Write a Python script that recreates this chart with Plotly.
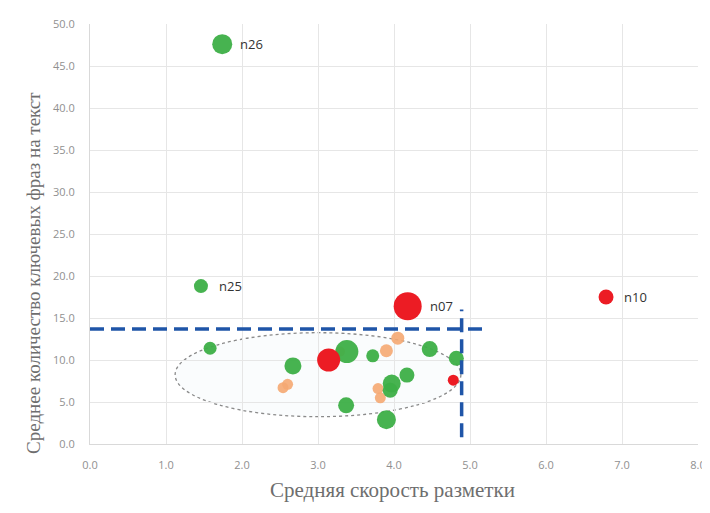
import plotly.graph_objects as go

# Data
green_x = [1.74, 1.46, 1.58, 2.67, 3.38, 3.37, 3.72, 4.47, 4.82, 4.17, 3.97, 3.95, 3.90]
green_y = [47.6, 18.8, 11.4, 9.3, 11.0, 4.6, 10.5, 11.3, 10.2, 8.2, 7.2, 6.4, 2.9]
green_s = [20, 14, 13, 17, 23, 16, 13, 16, 15, 15, 18, 15, 19]

orange_x = [2.54, 2.60, 3.29, 3.90, 4.05, 3.79, 3.82]
orange_y = [6.7, 7.1, 11.0, 11.1, 12.6, 6.6, 5.5]
orange_s = [11, 11, 10, 13, 13, 11, 11]

red_x = [4.18, 6.79, 3.14, 4.78]
red_y = [16.4, 17.5, 10.0, 7.6]
red_s = [28, 15, 23, 11]

label_names = ["n26", "n25", "n07", "n10"]
label_x = [1.74, 1.46, 4.18, 6.79]
label_y = [47.6, 18.8, 16.4, 17.5]

h_thr_y = 13.7
h_thr_x = [0.0, 5.16]
v_thr_x = 4.89
v_thr_y = [0.8, 16.0]

ell_cx, ell_cy, ell_rx, ell_ry = 3.0, 8.25, 1.88, 5.0

x_ticks = [0, 1, 2, 3, 4, 5, 6, 7, 8]
y_ticks = [0, 5, 10, 15, 20, 25, 30, 35, 40, 45, 50]

x_title = "Средняя скорость разметки"
y_title = "Среднее количество ключевых фраз на текст"

fig = go.Figure()

fig.add_shape(type="circle", xref="x", yref="y",
              x0=ell_cx - ell_rx, x1=ell_cx + ell_rx,
              y0=ell_cy - ell_ry, y1=ell_cy + ell_ry,
              line=dict(color="#8a8a8a", width=1.3, dash="dot"),
              fillcolor="rgba(230,238,246,0.18)", layer="below")

fig.add_trace(go.Scatter(x=orange_x, y=orange_y, mode="markers",
                         marker=dict(size=orange_s, color="#F5A872", opacity=0.9, line=dict(width=0)),
                         showlegend=False, hoverinfo="x+y"))
fig.add_trace(go.Scatter(x=green_x, y=green_y, mode="markers",
                         marker=dict(size=green_s, color="#3DAF47", opacity=0.95, line=dict(width=0)),
                         showlegend=False, hoverinfo="x+y"))
fig.add_trace(go.Scatter(x=red_x, y=red_y, mode="markers",
                         marker=dict(size=red_s, color="#EC1C24", opacity=1, line=dict(width=0)),
                         showlegend=False, hoverinfo="x+y"))

fig.add_trace(go.Scatter(x=h_thr_x, y=[h_thr_y, h_thr_y], mode="lines",
                         line=dict(color="#1F55A8", width=3.5, dash="14px,7px"),
                         showlegend=False, hoverinfo="skip"))
fig.add_trace(go.Scatter(x=[v_thr_x, v_thr_x], y=v_thr_y, mode="lines",
                         line=dict(color="#1F55A8", width=3.5, dash="14px,7px"),
                         showlegend=False, hoverinfo="skip"))

for name, lx, ly in zip(label_names, label_x, label_y):
    fig.add_annotation(x=lx, y=ly, text=name, showarrow=False, xanchor="left",
                       xshift=16 if name != "n07" else 20,
                       font=dict(family="Open Sans, Arial", size=13, color="#333333"))

title_font = dict(family="Liberation Serif, DejaVu Serif, serif", color="#6e6e6e")
fig.add_annotation(xref="paper", yref="paper", x=0.498, y=-0.11, text=x_title,
                   showarrow=False, xanchor="center", yanchor="middle",
                   font=dict(size=21, **title_font))
fig.add_annotation(xref="paper", yref="paper", x=-0.094, y=0.407, text=y_title,
                   showarrow=False, xanchor="center", yanchor="middle", textangle=-90,
                   font=dict(size=19, **title_font))

fig.update_layout(
    width=710, height=513,
    margin=dict(l=82, r=20, t=16, b=77),
    paper_bgcolor="white", plot_bgcolor="white",
    font=dict(family="Open Sans", color="#888888"),
    xaxis=dict(range=[0, 8], tickvals=x_ticks, tickformat=".1f", automargin=False,
               showgrid=True, gridcolor="#e6e6e6", gridwidth=1,
               zeroline=False, showline=True, linecolor="#d9d9d9",
               ticks="outside", ticklen=11, tickcolor="white",
               tickfont=dict(size=11, color="#909090")),
    yaxis=dict(range=[0, 50], tickvals=y_ticks, tickformat=".1f", automargin=False,
               showgrid=True, gridcolor="#e6e6e6", gridwidth=1,
               zeroline=False, showline=True, linecolor="#d9d9d9",
               ticks="outside", ticklen=12, tickcolor="white",
               tickfont=dict(size=11, color="#909090")),
)

fig.write_html("out.html")
